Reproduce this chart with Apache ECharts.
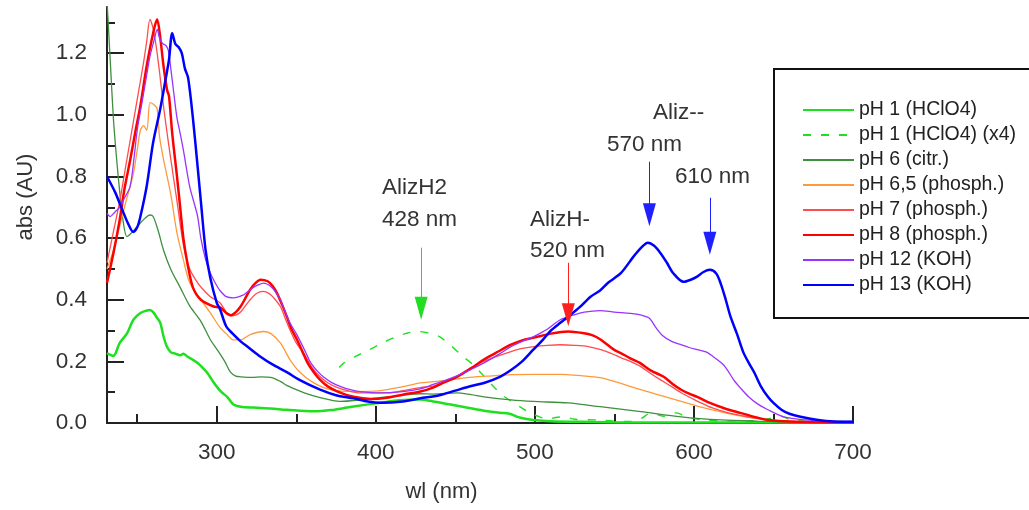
<!DOCTYPE html>
<html>
<head>
<meta charset="utf-8">
<script src="https://cdn.jsdelivr.net/npm/echarts@6/dist/echarts.min.js"></script>
<style>
  html, body { margin: 0; padding: 0; background: #fff; }
  #chart { width: 1029px; height: 510px; }
</style>
</head>
<body>
<div id="chart"></div>
<script>
// spectra: [wavelength nm, absorbance]
const ph1 = [[231,0.227],[235,0.218],[239,0.26],[243.5,0.29],[247.6,0.335],[252,0.357],[256,0.365],[258,0.367],[260,0.36],[262,0.345],[264.5,0.325],[266.6,0.28],[268.5,0.25],[271,0.23],[274,0.225],[277,0.22],[279,0.225],[281.5,0.216],[285,0.205],[288,0.195],[291,0.18],[294,0.163],[297,0.14],[300,0.118],[303,0.1],[306.5,0.085],[310.5,0.06],[315,0.053],[323,0.05],[334,0.047],[344,0.043],[361,0.038],[372,0.042],[382,0.05],[392,0.058],[403,0.066],[415,0.074],[428,0.076],[436,0.07],[447,0.06],[457,0.05],[468,0.04],[478,0.033],[484,0.03],[489,0.02],[494,0.014],[499,0.01],[510,0.006],[530,0.004],[560,0.002],[700,0.002]];
const ph1x4 = [[377,0.18],[380,0.195],[388,0.218],[396,0.238],[405,0.262],[413,0.28],[420,0.292],[426,0.297],[433,0.292],[440,0.28],[447,0.252],[455,0.215],[461,0.19],[466,0.163],[471,0.135],[476,0.108],[481,0.085],[486.6,0.066],[492,0.048],[497,0.033],[503,0.02],[508,0.012],[513,0.018],[518,0.02],[525,0.012],[539,0.01],[550,0.006],[560,0.005],[567,0.015],[573,0.033],[581,0.022],[589,0.033],[595,0.02],[605,0.01],[620,0.006],[640,0.008],[648,0.015],[655,0.022],[660,0.012],[670,0.006],[700,0.005]];
const ph6 = [[231,1.37],[233,1.18],[235,0.99],[237,0.86],[239,0.75],[241,0.66],[243.5,0.605],[246,0.615],[250,0.637],[254,0.66],[258,0.675],[260,0.67],[263,0.627],[266.6,0.56],[271,0.5],[277,0.44],[283,0.38],[290,0.33],[296,0.27],[300,0.24],[305,0.2],[308.6,0.165],[312,0.152],[315,0.15],[322,0.148],[328,0.15],[334,0.148],[340,0.135],[344,0.122],[350,0.108],[355,0.098],[365,0.082],[372,0.074],[378,0.07],[390,0.075],[407,0.085],[428,0.095],[436,0.094],[451,0.098],[460,0.092],[468,0.085],[485,0.075],[499,0.07],[521,0.065],[541,0.053],[566.6,0.037],[592,0.02],[617,0.01],[640,0.006],[660,0.004],[700,0.003]];
const ph65 = [[231,0.5],[235,0.56],[239,0.64],[243,0.72],[247.6,0.81],[250,0.886],[252,0.95],[254,0.965],[256,0.95],[258,1.04],[260,1.035],[262.5,1.02],[264,0.93],[266.6,0.854],[271,0.745],[275,0.616],[279,0.53],[283,0.455],[290,0.4],[296,0.357],[302,0.31],[306,0.29],[310.5,0.27],[315,0.27],[321,0.287],[329.5,0.297],[334,0.29],[340,0.26],[346,0.206],[352.6,0.163],[361,0.13],[371.5,0.108],[386,0.102],[403,0.105],[417,0.118],[428,0.13],[436,0.134],[447,0.14],[457,0.147],[470,0.152],[485,0.157],[499,0.158],[516,0.158],[530,0.153],[541,0.147],[553,0.13],[566.6,0.108],[580,0.088],[592,0.07],[604,0.052],[617,0.036],[628,0.024],[638,0.016],[650,0.009],[665,0.005],[700,0.003]];
const ph7 = [[231,0.52],[235,0.62],[239,0.72],[243,0.84],[247,0.96],[251,1.08],[254,1.17],[256,1.24],[258,1.31],[260,1.28],[262,1.22],[264,1.14],[266,1.05],[268,0.97],[271,0.86],[275,0.72],[279,0.58],[283,0.5],[288,0.455],[292,0.43],[296,0.41],[302,0.39],[306,0.36],[308.6,0.348],[312,0.35],[315,0.36],[318,0.38],[321,0.4],[325,0.42],[329,0.427],[333,0.42],[336,0.405],[340,0.378],[343,0.34],[346,0.303],[350,0.26],[354.6,0.227],[360,0.18],[365,0.15],[370,0.13],[376,0.115],[383,0.104],[390,0.098],[407,0.098],[417,0.105],[428,0.115],[436,0.12],[443,0.133],[451,0.15],[460,0.178],[468,0.2],[477,0.218],[485,0.232],[492,0.242],[499.5,0.248],[508,0.252],[516,0.254],[525,0.252],[533.5,0.248],[541.5,0.238],[547.5,0.227],[555,0.21],[560,0.2],[566.6,0.183],[573,0.16],[579,0.14],[586,0.118],[592,0.098],[598,0.082],[604,0.066],[612,0.048],[621,0.034],[630,0.024],[638,0.016],[650,0.008],[665,0.004],[700,0.002]];
const ph8 = [[231,0.455],[235,0.55],[239,0.66],[242,0.76],[245.6,0.854],[249,0.95],[252,1.03],[256,1.16],[260,1.265],[262.5,1.31],[264.5,1.25],[266.5,1.16],[268.8,1.08],[270,1.06],[272,0.94],[275,0.8],[277,0.7],[279,0.6],[281.5,0.52],[285,0.44],[290,0.4],[298,0.378],[302,0.375],[306.5,0.355],[309,0.35],[312,0.36],[315,0.378],[318,0.405],[321,0.433],[324,0.452],[327.5,0.465],[332,0.46],[335,0.445],[338,0.42],[341,0.385],[344,0.346],[347,0.305],[350.5,0.27],[354,0.23],[357,0.196],[361,0.165],[365,0.14],[370,0.118],[376,0.102],[386,0.085],[396.6,0.078],[407,0.082],[417,0.092],[428,0.102],[436,0.115],[443,0.132],[451,0.15],[460,0.178],[468,0.206],[477,0.232],[485,0.254],[492,0.268],[499.5,0.277],[510,0.29],[521,0.297],[530,0.292],[536,0.285],[541.5,0.27],[549.7,0.238],[554,0.227],[560,0.21],[566,0.195],[573,0.17],[581,0.15],[587,0.125],[592,0.108],[597,0.095],[602,0.085],[610,0.065],[619,0.048],[629,0.033],[638,0.02],[646.5,0.01],[660,0.005],[700,0.002]];
const ph12 = [[231,0.68],[233,0.67],[236,0.685],[239,0.7],[242,0.73],[245.5,0.767],[248,0.86],[250,0.95],[253,1.04],[256,1.13],[258,1.19],[260.5,1.24],[262.6,1.277],[264,1.25],[265.7,1.233],[268,1.225],[269.5,1.21],[271,1.155],[273,1.07],[275,0.99],[277,0.94],[279,0.886],[283,0.767],[286,0.71],[288,0.67],[290,0.6],[293,0.53],[296,0.486],[299,0.455],[302,0.43],[306,0.41],[310.5,0.406],[314,0.41],[317,0.416],[320,0.428],[323,0.44],[326,0.448],[329.5,0.454],[334,0.443],[337,0.425],[340,0.4],[343,0.36],[346,0.325],[350,0.29],[353,0.26],[356,0.228],[359,0.196],[363,0.17],[367,0.15],[372,0.132],[378,0.118],[384,0.108],[390,0.102],[403,0.098],[417,0.102],[428,0.111],[436,0.125],[447,0.145],[457,0.167],[468,0.195],[478,0.225],[485,0.248],[492,0.265],[499,0.28],[508,0.305],[516,0.335],[524,0.35],[531,0.36],[541,0.365],[550,0.36],[560,0.356],[567,0.35],[572,0.34],[576,0.31],[580,0.285],[586,0.265],[591.5,0.255],[597,0.245],[602,0.238],[608,0.23],[612,0.216],[617,0.196],[620,0.18],[625,0.14],[629,0.115],[634,0.087],[640,0.062],[646.5,0.043],[656.5,0.02],[670,0.01],[685,0.006],[700,0.005]];
const ph13 = [[231,0.8],[236,0.75],[240,0.7],[244,0.65],[247.5,0.62],[250,0.635],[252,0.67],[256,0.77],[260,0.91],[264.5,1.02],[268,1.12],[270,1.18],[272,1.265],[274,1.23],[276,1.22],[278,1.2],[280,1.15],[282,1.12],[285,0.99],[288,0.83],[290,0.72],[293,0.56],[296,0.47],[300,0.39],[302,0.37],[306,0.313],[310,0.29],[315,0.265],[320,0.245],[327.5,0.215],[335,0.19],[344,0.165],[352,0.14],[365,0.108],[375,0.09],[386,0.08],[395,0.07],[403,0.066],[417,0.07],[428,0.08],[440,0.09],[450,0.105],[460,0.12],[468,0.13],[478,0.15],[485,0.172],[492,0.2],[499,0.238],[505,0.27],[510,0.3],[516,0.325],[521,0.345],[528,0.375],[535,0.41],[541,0.43],[546,0.455],[554,0.486],[562,0.54],[567,0.57],[571,0.585],[575,0.575],[579,0.551],[583,0.52],[587,0.486],[593.5,0.458],[598,0.465],[602,0.475],[606,0.49],[610,0.497],[614,0.485],[617,0.45],[620,0.4],[623,0.345],[627,0.29],[631,0.23],[635,0.19],[638,0.163],[642,0.12],[646.5,0.085],[650,0.065],[655,0.043],[660,0.03],[667,0.02],[678,0.01],[688,0.005],[700,0.004]];

// axis ticks
const xMajor = [300, 400, 500, 600, 700];
const xMinor = [250, 350, 450, 550, 650];
const yMajor = [0, 0.2, 0.4, 0.6, 0.8, 1.0, 1.2];
const yMinor = [0.1, 0.3, 0.5, 0.7, 0.9, 1.1, 1.3];

// arrows: wavelength, tail, head (absorbance)
const arrowX = [428.5, 521, 572, 610];
const arrowTail = [0.569, 0.52, 0.848, 0.731];
const arrowHead = [0.372, 0.351, 0.676, 0.583];
const arrowColors = ['#22dd22', '#ff2020', '#2020ff', '#2020ff'];

const names = ['pH 1 (HClO4)', 'pH 1 (HClO4) (x4)', 'pH 6 (citr.)', 'pH 6,5 (phosph.)',
  'pH 7 (phosph.)', 'pH 8 (phosph.)', 'pH 12 (KOH)', 'pH 13 (KOH)'];

const FONT = '"Liberation Sans", Arial, sans-serif';
const TXT = '#333';

const chart = echarts.init(document.getElementById('chart'));

function spectrum(name, data, color, width, dashed) {
  return {
    name: name, type: 'line', data: data,
    xAxisIndex: 0, yAxisIndex: 0,
    showSymbol: false, symbol: 'none', smooth: 0.3,
    lineStyle: { color: color, width: width, type: dashed ? [8, 10] : 'solid' },
    itemStyle: { color: color },
    emphasis: { disabled: true }
  };
}

const series = [
  spectrum(names[0], ph1, '#1fe01f', 2.5),
  spectrum(names[1], ph1x4, '#1fe01f', 1.4, true),
  spectrum(names[2], ph6, '#3f8f3f', 1.3),
  spectrum(names[3], ph65, '#ff9a3c', 1.3),
  spectrum(names[4], ph7, '#ff4d4d', 1.3),
  spectrum(names[5], ph8, '#ff0000', 2.5),
  spectrum(names[6], ph12, '#9933ff', 1.3),
  spectrum(names[7], ph13, '#0000ff', 2.5)
];

// arrows drawn by an empty helper series
series.push({
  type: 'line', data: [], silent: true,
  markLine: {
    silent: true, animation: false,
    symbol: ['none', 'triangle'], symbolSize: [13, 23],
    label: { show: false },
    data: arrowX.map(function (x, i) {
      return [
        { coord: [x, arrowTail[i]], lineStyle: { color: arrowColors[i], width: 1, type: 'solid' }, itemStyle: { color: arrowColors[i] } },
        { coord: [x, arrowHead[i]], itemStyle: { color: arrowColors[i] } }
      ];
    })
  }
});

function note(text, x, y) {
  return { type: 'text', x: x, y: y, silent: true,
    style: { text: text, fill: TXT, fontSize: 22.5, fontFamily: FONT, verticalAlign: 'middle' } };
}

const option = {
  animation: false,
  grid: { left: 107, right: 176, top: 7, bottom: 87 },
  xAxis: [
    {
      type: 'value', min: 231, max: 700,
      name: 'wl (nm)', nameLocation: 'middle', nameGap: 58,
      nameTextStyle: { fontSize: 22, color: TXT, fontFamily: FONT, padding: [0, 77, 0, 0] },
      axisLine: { show: true, onZero: false, lineStyle: { color: '#222', width: 2 } },
      axisTick: { show: true, inside: true, length: 17, customValues: xMajor, lineStyle: { color: '#222', width: 2 } },
      axisLabel: { customValues: xMajor, fontSize: 22.5, color: TXT, fontFamily: FONT, margin: 18 },
      splitLine: { show: false }
    },
    {
      type: 'value', min: 231, max: 700, position: 'bottom',
      axisLine: { show: false },
      axisTick: { show: true, inside: true, length: 9, customValues: xMinor, lineStyle: { color: '#222', width: 2 } },
      axisLabel: { show: false },
      splitLine: { show: false }
    }
  ],
  yAxis: [
    {
      type: 'value', min: 0, max: 1.35,
      name: 'abs (AU)', nameLocation: 'middle', nameGap: 70, nameRotate: 90,
      nameTextStyle: { fontSize: 22, color: TXT, fontFamily: FONT, padding: [0, 0, 0, 36] },
      axisLine: { show: true, onZero: false, lineStyle: { color: '#222', width: 2 } },
      axisTick: { show: true, inside: true, length: 17, customValues: yMajor, lineStyle: { color: '#222', width: 2 } },
      axisLabel: { customValues: yMajor, fontSize: 22.5, color: TXT, fontFamily: FONT, margin: 20,
        formatter: function (v) { return v.toFixed(1); } },
      splitLine: { show: false }
    },
    {
      type: 'value', min: 0, max: 1.35, position: 'left',
      axisLine: { show: false },
      axisTick: { show: true, inside: true, length: 8, customValues: yMinor, lineStyle: { color: '#222', width: 2 } },
      axisLabel: { show: false },
      splitLine: { show: false }
    }
  ],
  legend: {
    data: names, orient: 'vertical', left: 774, top: 69,
    padding: [31, 40, 23, 28],
    itemWidth: 51, itemHeight: 14, itemGap: 5,
    borderColor: '#111', borderWidth: 2,
    selectedMode: false,
    itemStyle: { color: 'rgba(0,0,0,0)', borderColor: 'rgba(0,0,0,0)', borderWidth: 0 },
    textStyle: { fontSize: 19.5, color: '#222', fontFamily: FONT, lineHeight: 20 }
  },
  graphic: [
    note('AlizH2', 382, 188),
    note('428 nm', 382, 220),
    note('AlizH-', 530, 220),
    note('520 nm', 530, 251),
    note('Aliz--', 653, 113),
    note('570 nm', 607, 145),
    note('610 nm', 675, 177)
  ],
  series: series
};

chart.setOption(option);
</script>
</body>
</html>
